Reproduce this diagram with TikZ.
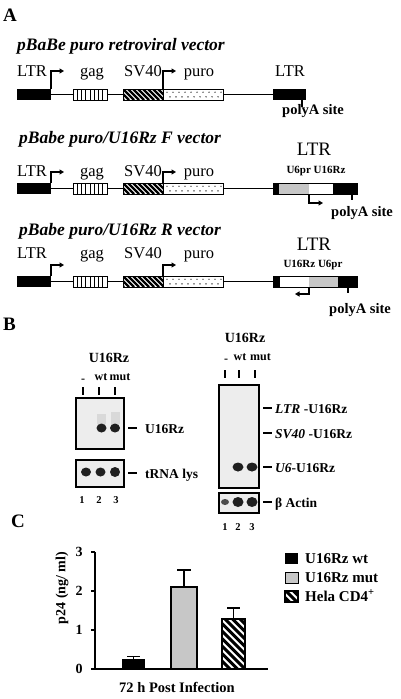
\documentclass[tikz,border=0pt]{standalone}
\usepackage{fontspec}
\setmainfont{Liberation Serif}
\usetikzlibrary{arrows.meta}
\tikzset{
  thinln/.style={line width=1.1pt},
  boxln/.style={line width=1pt},
  arr/.style={line width=1.1pt,-{Triangle[length=4.5pt,width=5pt]}},
  lbl/.style={inner sep=0pt, anchor=base, font=\fontsize{16.5}{16.5}\selectfont},
  bigl/.style={inner sep=0pt, anchor=base, font=\fontsize{19}{19}\selectfont},
  ttl/.style={inner sep=0pt, anchor=base west, font=\fontsize{17.5}{17.5}\selectfont\bfseries\itshape},
  pnl/.style={inner sep=0pt, anchor=base west, font=\fontsize{19}{19}\selectfont\bfseries},
  small/.style={inner sep=0pt, anchor=base, font=\fontsize{11}{11}\selectfont\bfseries},
  pa/.style={inner sep=0pt, anchor=base, font=\fontsize{14.5}{14.5}\selectfont\bfseries},
  bl/.style={inner sep=0pt, anchor=base, font=\fontsize{14}{14}\selectfont\bfseries},
  wl/.style={inner sep=0pt, anchor=base, font=\fontsize{12}{12}\selectfont\bfseries},
  sl/.style={inner sep=0pt, anchor=base west, font=\fontsize{13.5}{13.5}\selectfont\bfseries},
  lgl/.style={inner sep=0pt, anchor=base west, font=\fontsize{15}{15}\selectfont\bfseries},
  ln/.style={inner sep=0pt, anchor=base, font=\fontsize{10.5}{10.5}\selectfont\bfseries},
  cl/.style={inner sep=0pt, font=\fontsize{14}{14}\selectfont\bfseries},
  blot/.style={fill=black!7, draw=black, line width=1.1pt},
  band/.style={fill=black!88},
  tickm/.style={line width=1.4pt},
  grayfill/.style={fill=black!22},
}
\newcommand\vecrow[4]{%
\begin{scope}[shift={(0,#1)}]
 \fill (17,0) rectangle (51,11);
 \draw[thinln] (51,5.5) -- (73,5.5) (107,5.5) -- (123,5.5) (223,5.5) -- (273,5.5);
 \foreach \i in {77.25,81.5,85.75,90,94.25,98.5,102.75} \draw[line width=1pt] (\i,0) -- (\i,11);
 \draw[boxln] (73,0) rectangle (107,11);
 \begin{scope}
  \clip (123,0) rectangle (163,11);
  \foreach \i in {-12,-7,...,165} \draw[line width=2.2pt] (\i,0) -- ({\i+11},11);
 \end{scope}
 \draw[boxln] (123,0) rectangle (163,11);
 \foreach \i in {167,173,...,221} \fill (\i,3.2) circle (0.7);
 \foreach \i in {170,176,...,221} \fill (\i,7.8) circle (0.7);
 \draw[boxln] (163,0) rectangle (223,11);
 \draw[arr] (51,0) -- (51,#3) -- (64,#3);
 \draw[arr] (163,0) -- (163,#3) -- (176,#3);
 \node[lbl] (ltrL#4) at (32,#2) {LTR};
 \node[lbl] (gag#4) at (92,#2) {gag};
 \node[lbl] (sv#4) at (143,#2) {SV40};
 \node[lbl] (puro#4) at (199,#2) {puro};
\end{scope}}
\begin{document}
\begin{tikzpicture}[x=1pt,y=-1pt]
\useasboundingbox (0,0) rectangle (400,699);
\fill[white] (0,0) rectangle (400,699);

% ---------- Panel A ----------
\node[pnl] (pA) at (3,21) {A};
\node[ttl] (t1) at (17,50) {pBaBe puro retroviral vector};
\vecrow{89}{-13}{-18}{1}
\fill (273,89) rectangle (306,100);
\node[lbl] (ltrR1) at (290,76) {LTR};
\draw[thinln] (302,100) -- (302,107);
\node[pa] (pa1) at (313,114) {polyA site};

\node[ttl] (t2) at (19,143) {pBabe puro/U16Rz F vector};
\vecrow{183}{-6.5}{-11}{2}
\begin{scope}[shift={(0,183)}]
 \fill (273,0) rectangle (279,11);
 \fill[grayfill] (279,0) rectangle (309,11);
 \fill (333,0) rectangle (357,11);
 \draw[boxln] (273,0) rectangle (357,11);
 \draw[arr] (309,11) -- (309,20) -- (323,20);
 \draw[thinln] (352,11) -- (352,17);
\end{scope}
\node[bigl] (ltrR2) at (314,155) {LTR};
\node[small] (u2) at (316,173) {U6pr U16Rz};
\node[pa] (pa2) at (362,216) {polyA site};

\node[ttl] (t3) at (19,235) {pBabe puro/U16Rz R vector};
\vecrow{276}{-17.5}{-11}{3}
\begin{scope}[shift={(0,276)}]
 \fill (273,0) rectangle (280,11);
 \fill[grayfill] (309,0) rectangle (338,11);
 \fill (338,0) rectangle (357,11);
 \draw[boxln] (273,0) rectangle (357,11);
 \draw[arr] (309,11) -- (309,18) -- (295,18);
 \draw[thinln] (348,11) -- (348,17);
\end{scope}
\node[bigl] (ltrR3) at (314,250) {LTR};
\node[small] (u3) at (313,267) {U16Rz U6pr};
\node[pa] (pa3) at (360,313) {polyA site};

% ---------- Panel B ----------
\node[pnl] (pB) at (3,330) {B};
% left blot
\node[bl] (bz1) at (109,362) {U16Rz};
\node[wl] (m1) at (83,382) {-};
\node[wl] (wt1) at (101,380) {wt};
\node[wl] (mut1) at (120,380) {mut};
\foreach \x in {83,99,115} \draw[tickm] (\x,387) -- (\x,395);
\draw[blot] (76,398) rectangle (124,449);
\fill[black!15] (97,414) rectangle (106,424);
\fill[black!15] (111,412) rectangle (120,424);
\fill[band] (101.5,428) ellipse (5 and 4.5);
\fill[band] (115,428) ellipse (5 and 4.5);
\draw[blot] (76,460) rectangle (124,487);
\fill[band] (86,472) ellipse (5 and 4.5);
\fill[band] (100.5,472) ellipse (5 and 4.5);
\fill[band] (115,472) ellipse (5 and 5);
\draw[thinln] (128,428) -- (137,428);
\node[sl] (lb1) at (145,433) {U16Rz};
\draw[thinln] (128,473) -- (137,473);
\node[sl] (lb2) at (145,478) {tRNA lys};
\node[ln] (n11) at (82,503) {1};
\node[ln] (n12) at (99,503) {2};
\node[ln] (n13) at (116,503) {3};

% right blot
\node[bl] (bz2) at (245,342) {U16Rz};
\node[wl] (m2) at (226,362) {-};
\node[wl] (wt2) at (240,360) {wt};
\node[wl] (mut2) at (260.5,360) {mut};
\foreach \x in {225,239,255} \draw[tickm] (\x,370) -- (\x,378);
\draw[blot] (219,385) rectangle (259,488);
\fill[band] (238,467) ellipse (5.5 and 4.5);
\fill[band] (252,467) ellipse (5.5 and 4.5);
\draw[blot] (219,493) rectangle (259,513);
\fill[black!70] (225,502) ellipse (4 and 3);
\fill[band] (238,502) ellipse (5.5 and 5);
\fill[band] (252,502) ellipse (5.5 and 5);
\draw[thinln] (263,408) -- (272,408);
\node[sl] (r1) at (275,413) {\textit{LTR} -U16Rz};
\draw[thinln] (263,433) -- (272,433);
\node[sl] (r2) at (275,438) {\textit{SV40} -U16Rz};
\draw[thinln] (263,467) -- (272,467);
\node[sl] (r3) at (275,472) {\textit{U6}-U16Rz};
\draw[thinln] (263,502) -- (272,502);
\node[sl] (r4) at (275,507) {β Actin};
\node[ln] (n21) at (225,530) {1};
\node[ln] (n22) at (238,530) {2};
\node[ln] (n23) at (252,530) {3};

% ---------- Panel C ----------
\node[pnl] (pC) at (11,527) {C};
\draw[line width=1.2pt] (95,552) -- (95,669) -- (268,669);
\foreach \y/\t in {552/3,591/2,630/1,669/0} {
  \draw[line width=1.2pt] (91,\y) -- (95,\y);
  \node[cl, anchor=base] at (79,\y+4.5) {\t};
}
\node[cl, rotate=90, anchor=center] (ylab) at (62,588) {p24 (ng/ ml)};
% bars
\draw[line width=1.3pt] (133.5,659) -- (133.5,656.5) (127,656.5) -- (140,656.5);
\fill (122,659) rectangle (145,669);
\draw[line width=1.3pt] (184,587) -- (184,570) (177,570) -- (191,570);
\filldraw[grayfill, draw=black, line width=1.1pt] (171,587) rectangle (197,669);
\draw[line width=1.3pt] (233.5,619) -- (233.5,608) (227,608) -- (240,608);
\fill[white] (222,619) rectangle (245,669);
\begin{scope}
 \clip (222,619) rectangle (245,669);
 \foreach \i in {180,187.5,...,260} \draw[line width=3pt] (\i,619) -- ({\i+50},669);
\end{scope}
\draw[line width=1.1pt] (222,619) rectangle (245,669);
\node[pa] (xl) at (177,692) {72 h Post Infection};
% legend
\fill (285,553) rectangle (298,564);
\filldraw[grayfill, draw=black, line width=0.9pt] (285,572) rectangle (298,583);
\begin{scope}
 \clip (285,591) rectangle (298,602);
 \foreach \i in {271,278.5,...,300} \draw[line width=3pt] (\i,591) -- ({\i+11},602);
\end{scope}
\draw[line width=1.1pt] (285,591) rectangle (298,602);
\node[lgl] (lg1) at (305,563) {U16Rz wt};
\node[lgl] (lg2) at (305,582) {U16Rz mut};
\node[lgl] (lg3) at (305,601) {Hela CD4\textsuperscript{+}};
\end{tikzpicture}
\end{document}
